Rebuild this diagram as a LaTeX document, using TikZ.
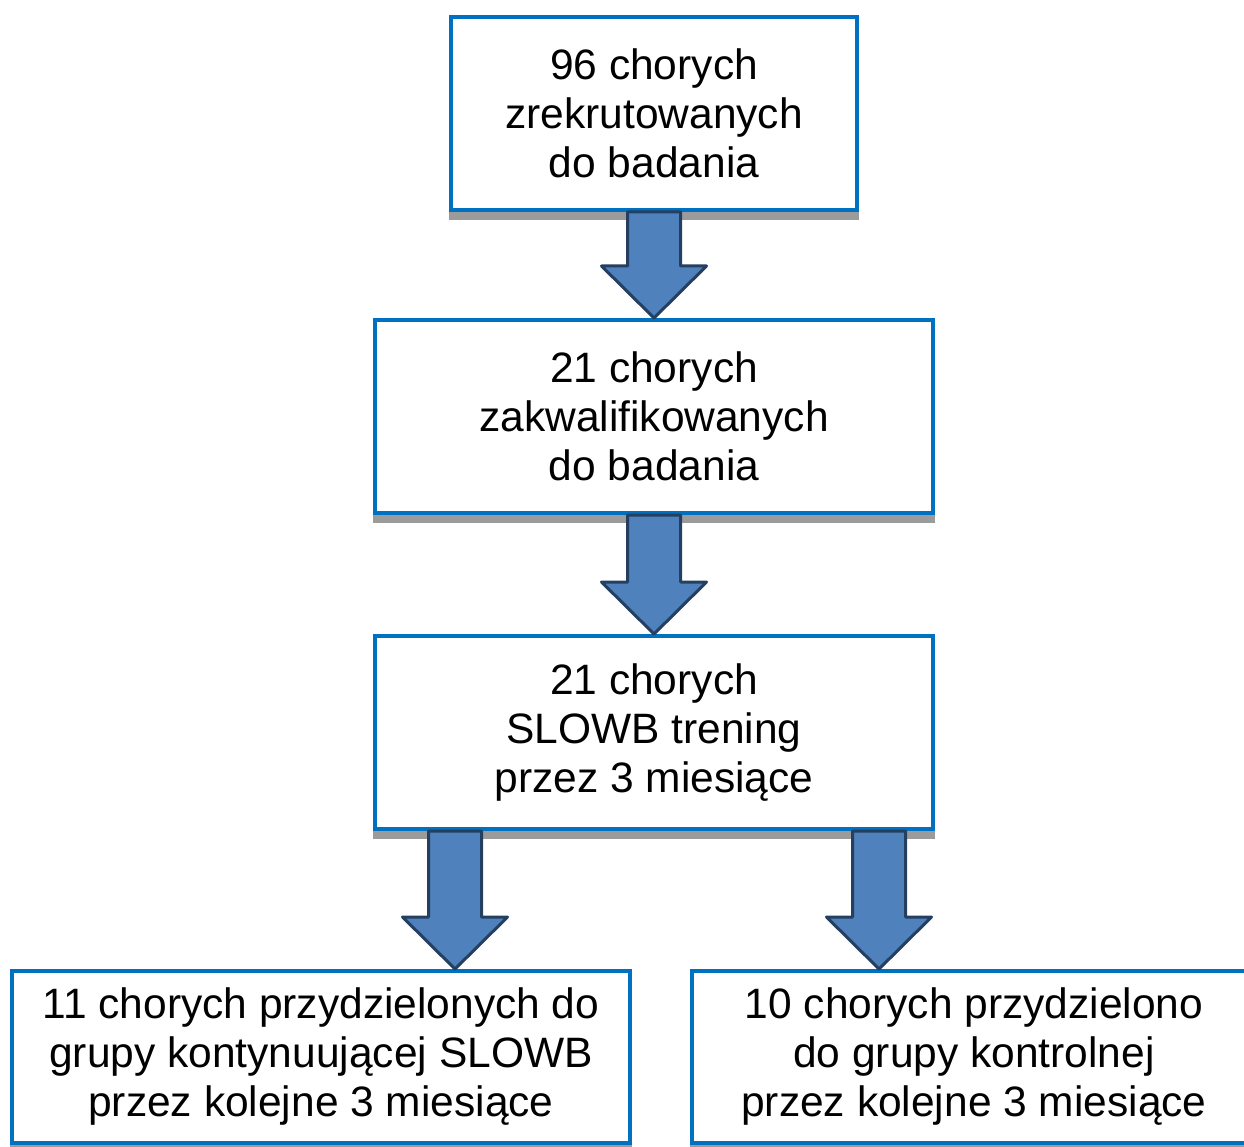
\documentclass[tikz,border=0pt]{standalone}
\usepackage{fontspec}
\setmainfont{Liberation Sans}
\usetikzlibrary{calc,positioning,shadows}
\definecolor{boxblue}{HTML}{0070C0}
\definecolor{arrowfill}{HTML}{4F81BD}
\definecolor{arrowline}{HTML}{243F60}
\definecolor{shadowgray}{HTML}{9B9B9B}
\tikzstyle{every node}+=[font=\fontsize{42.5}{49}\selectfont,align=center,inner sep=0pt]
\tikzstyle{box}=[draw=boxblue,fill=white,line width=4pt,drop shadow={shadow xshift=0pt,shadow yshift=-8pt,fill=shadowgray,draw=shadowgray,line width=4pt,opacity=1}]
\tikzstyle{blockarrow}=[draw=arrowline,fill=arrowfill,line width=3pt,line join=round]
\newcommand{\drawblockarrows}[1]{
	\foreach \a/\b in {#1}{
		\draw[blockarrow] ($(\a)+(-26.5,0)$) -- ($(\b)+(-26.5,-52)$) -- ($(\b)+(-52.5,-52)$) -- (\b) -- ($(\b)+(52.5,-52)$) -- ($(\b)+(26.5,-52)$) -- ($(\a)+(26.5,0)$) -- cycle;
	}
}

\begin{document}
\begin{tikzpicture}[x=1pt,y=-1pt]
\useasboundingbox (0,0) rectangle (1244,1147);

\node[box,minimum width=406pt,minimum height=193pt] (rekrut) at (654,113.5) {96 chorych\\zrekrutowanych\\do badania};
\node[box,minimum width=558pt,minimum height=193pt,below=106pt of rekrut] (kwalif) {21 chorych\\zakwalifikowanych\\do badania};
\node[box,minimum width=558pt,minimum height=193pt,below=119pt of kwalif] (trening) {21 chorych\\SLOWB trening\\przez 3 miesiące};
\node[box,minimum width=618pt,minimum height=172pt] (slowb) at (321,1057) {11 chorych przydzielonych do\\grupy kontynuującej SLOWB\\przez kolejne 3 miesiące};
\node[box,minimum width=564pt,minimum height=172pt] (kontrol) at (974,1057) {10 chorych przydzielono\\do grupy kontrolnej\\przez kolejne 3 miesiące};

\coordinate (lewy) at ($(trening.south)+(-199,0)$);
\coordinate (prawy) at ($(trening.south)+(225,0)$);

\drawblockarrows{rekrut.south/kwalif.north,kwalif.south/trening.north,lewy/lewy|-slowb.north,prawy/prawy|-kontrol.north}
\end{tikzpicture}
\end{document}
